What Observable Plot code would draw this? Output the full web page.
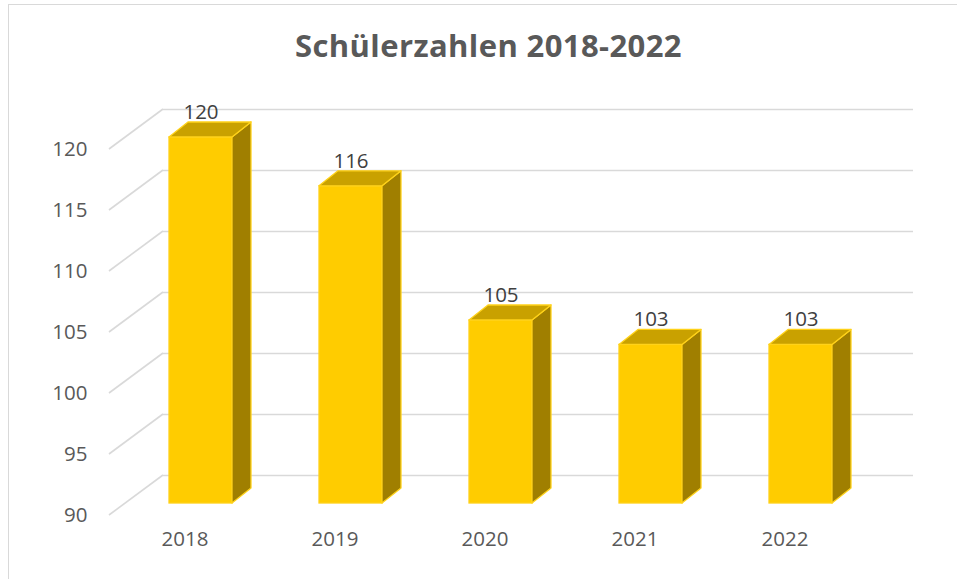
<!DOCTYPE html>
<html>
<head>
<meta charset="utf-8">
<script src="https://cdn.jsdelivr.net/npm/d3@7"></script>
<script src="https://cdn.jsdelivr.net/npm/@observablehq/plot@0.6"></script>
<style>
  html, body { margin: 0; padding: 0; background: #fff; overflow: hidden; }
  #frame { position: absolute; left: 8px; top: 4px; width: 1000px; height: 700px;
           border-left: 1.5px solid #d9d9d9; border-top: 1.5px solid #d9d9d9; box-sizing: border-box; }
  #chart { position: relative; width: 957px; }
  #title { box-sizing: border-box; height: 85px; padding-top: 30px; margin-left: 8px; width: 961px;
           text-align: center; font-family: "Open Sans", sans-serif; font-weight: 700; font-size: 31px;
           letter-spacing: 0.4px; line-height: 31px; color: #595959; white-space: nowrap; }
  svg { display: block; }
</style>
</head>
<body>
<div id="frame"></div>
<div id="chart">
  <div id="title">Schülerzahlen 2018-2022</div>
</div>
<script>
const years = ["2018", "2019", "2020", "2021", "2022"];
const students = [120, 116, 105, 103, 103];
const yTicks = [90, 95, 100, 105, 110, 115, 120];

const data = years.map((year, i) => ({year, value: students[i]}));

const FRONT = "#FFCC00", TOP = "#C9A100", SIDE = "#A07F00", EDGE = "#FFD21A";
const grid = "#d9d9d9";

// depth offsets (px) relative to the bars' front plane
const backDx = 38, backDy = -28, frontDx = -16, frontDy = 12;
const barDx = 19, barDy = -15;

// diagonal wall/floor lines from front-left to back-left
function diagonals(index, scales, values, dim) {
  const g = d3.create("svg:g");
  const x0 = dim.marginLeft;
  for (const t of yTicks) {
    const y = scales.y(t);
    g.append("line")
      .attr("x1", x0 + frontDx).attr("y1", y + frontDy)
      .attr("x2", x0 + backDx).attr("y2", y + backDy)
      .attr("stroke", grid).attr("stroke-width", 1.6);
  }
  return g.node();
}

// top and side faces of 3D bars
function barFaces(index, scales, values, dim) {
  const g = d3.create("svg:g");
  const bw = typeof scales.x.bandwidth === "function" ? scales.x.bandwidth() : scales.scales.x.bandwidth;
  for (const d of data) {
    const xl = scales.x(d.year), xr = xl + bw;
    const yt = scales.y(d.value), yb = scales.y(90);
    g.append("path")
      .attr("d", `M${xr},${yt}L${xr + barDx},${yt + barDy}L${xr + barDx},${yb + barDy}L${xr},${yb}Z`)
      .attr("fill", SIDE).attr("stroke", EDGE).attr("stroke-width", 1.3).attr("stroke-linejoin", "round");
    g.append("path")
      .attr("d", `M${xl},${yt}L${xl + barDx},${yt + barDy}L${xr + barDx},${yt + barDy}L${xr},${yt}Z`)
      .attr("fill", TOP).attr("stroke", EDGE).attr("stroke-width", 1.3).attr("stroke-linejoin", "round");
  }
  return g.node();
}

const chart = Plot.plot({
  width: 957,
  height: 494,
  marginTop: 52,
  marginBottom: 76,
  marginLeft: 125,
  marginRight: 82,
  style: {fontFamily: "'Open Sans', sans-serif", background: "transparent", overflow: "visible"},
  x: {domain: years, paddingInner: 0.58, paddingOuter: 0.29, axis: null},
  y: {domain: [90, 120], axis: null},
  marks: [
    Plot.ruleY(yTicks, {y: d => d, dx: backDx, dy: backDy, stroke: grid, strokeWidth: 1.6}),
    diagonals,
    Plot.barY(data, {x: "year", y1: 90, y2: "value", fill: FRONT, stroke: EDGE, strokeWidth: 1.3, inset: 0}),
    barFaces,
    Plot.text(data, {x: "year", y: "value", text: d => String(d.value), dy: -25, fontSize: 20.5, fill: "#404040"}),
    Plot.text(yTicks, {y: d => d, text: d => String(d), frameAnchor: "left", textAnchor: "end",
      dx: -38, dy: frontDy, fontSize: 20.5, fill: "#595959"}),
    Plot.text(years, {x: d => d, text: d => d, frameAnchor: "bottom", dx: -16, dy: 42.5, fontSize: 20.5, fill: "#595959"})
  ]
});
document.getElementById("chart").appendChild(chart);
</script>
</body>
</html>
